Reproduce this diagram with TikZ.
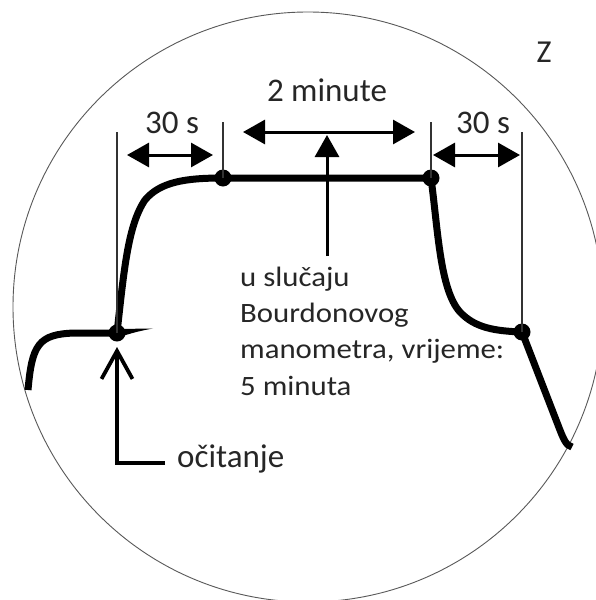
\documentclass[tikz,border=0pt]{standalone}
\usepackage{fontspec}
\setmainfont{Carlito}
\newfontfamily\bodyfont[FakeStretch=1.1]{Carlito}
\usetikzlibrary{arrows.meta}
\begin{document}
\begin{tikzpicture}[x=1pt,y=-1pt,
  curve/.style={line width=7pt, line join=round},
  thinline/.style={line width=1.1pt, black!80},
  dimarrow/.style={line width=3pt, {Triangle[length=22pt,width=24pt]}-{Triangle[length=22pt,width=24pt]}},
  uparrow/.style={line width=3pt, -{Triangle[length=22pt,width=24pt]}},
  readarrow/.style={line width=3.8pt, -{Straight Barb[length=28pt,width=31pt]}},
  dotnode/.style={circle, fill, inner sep=0pt, minimum size=17pt},
  lbl/.style={font=\fontsize{33}{40}\selectfont, text=black!85, inner sep=0pt},
  body/.style={font=\bodyfont\fontsize{28}{34}\selectfont, text=black!85, inner sep=0pt, anchor=base west}]
\useasboundingbox (0,0) rectangle (596,600);
\clip (0,0) rectangle (596,600);
\fill[white] (0,0) rectangle (596,600);
% lens circle
\draw[black!65, line width=0.9pt] (308,307) circle[radius=295pt];
% dots
\node[dotnode] (d1) at (117,333) {};
\node[dotnode] (d2) at (223,178) {};
\node[dotnode] (d3) at (431,178) {};
\node[dotnode] (d4) at (522,332) {};
% curve end points
\coordinate (s0) at (28,390);
\coordinate (s5) at (572,447);
% pressure curve
\draw[curve] (s0) .. controls (32,345) and (38,334) .. (75,333) -- (d1.center)
  .. controls (124,270) and (128,225) .. (145,200)
  .. controls (160,182) and (185,178) .. (d2.center) -- (d3.center)
  .. controls (438,230) and (440,290) .. (460,312)
  .. controls (475,328) and (495,331) .. (d4.center) -- (558,425)
  .. controls (563,438) and (566,446) .. (s5);
% spur at reading point
\fill (117,329) -- (153,328.5) .. controls (138,331) and (125,335) .. (117,338) -- cycle;
% vertical guide lines
\coordinate (v1) at (117,132);
\coordinate (v2) at (223,122);
\coordinate (v3) at (431,122);
\coordinate (v4) at (522,132);
\draw[thinline] (v1) -- (d1.center);
\draw[thinline] (v2) -- (d2.center);
\draw[thinline] (v3) -- (d3.center);
\draw[thinline] (v4) -- (d4.center);
% dimension arrows
\coordinate (a1l) at (127,155);
\coordinate (a1r) at (213,155);
\coordinate (a2l) at (243,132);
\coordinate (a2r) at (415,132);
\coordinate (a3l) at (433,155);
\coordinate (a3r) at (520,155);
\draw[dimarrow] (a1l) -- (a1r);
\draw[dimarrow] (a2l) -- (a2r);
\draw[dimarrow] (a3l) -- (a3r);
% labels
\node[lbl, anchor=base] (l30a) at (172,133.5) {30 s};
\node[lbl, anchor=base] (l2m) at (327,101) {2 minute};
\node[lbl, anchor=base] (l30b) at (483,133.5) {30 s};
\node[lbl, anchor=base, font=\fontsize{32}{38}\selectfont] (z) at (544,62) {Z};
% Bourdon text
\node[body] (t1) at (240,286) {u slučaju};
\node[body] (t2) at (240,322) {Bourdonovog};
\node[body] (t3) at (240,358.5) {manometra, vrijeme:};
\node[body] (t4) at (240,395) {5 minuta};
% upward arrow to the 2 minute span
\coordinate (ua) at (327,256);
\coordinate (ub) at (327,135);
\draw[uparrow] (ua) -- (ub);
% reading label and arrow
\node[lbl, anchor=base west] (oc) at (177,467) {očitanje};
\draw[readarrow] ([shift={(-12pt,4pt)}]oc.base west) -| ([yshift=-14pt]d1.center);
\end{tikzpicture}
\end{document}
